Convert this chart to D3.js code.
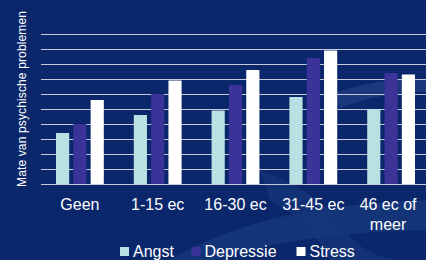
<!DOCTYPE html>
<html>
<head>
<meta charset="utf-8">
<script src="https://cdn.jsdelivr.net/npm/d3@7"></script>
<style>
  html, body { margin: 0; padding: 0; background: #0a276b; }
  svg { display: block; font-family: "Liberation Sans", Arial, sans-serif; }
</style>
</head>
<body>
<svg id="chart"></svg>
<script>
const width = 426;
const height = 260;

// data (no y tick labels, 10 grid steps)
const categories = ['Geen', '1-15 ec', '16-30 ec', '31-45 ec', '46 ec of meer'];
const series = ['Angst', 'Depressie', 'Stress'];
const angst = [3.4, 4.6, 4.9, 5.8, 5.0];
const depressie = [4.0, 6.0, 6.6, 8.4, 7.4];
const stress = [5.6, 6.9, 7.6, 8.9, 7.3];
const colors = ['#b9e1e4', '#3b3398', '#ffffff'];

const values = [angst, depressie, stress];

const svg = d3.select('#chart')
    .attr('width', width)
    .attr('height', height);

// background + faint watermark swoosh
svg.append('rect').attr('width', width).attr('height', height).attr('fill', '#0a276b');
svg.append('path')
    .attr('d', 'M170,260 C230,225 300,205 426,200 L426,230 C330,232 260,245 215,260 Z')
    .attr('fill', '#1b3d80').attr('opacity', 0.6);
svg.append('path')
    .attr('d', 'M330,95 C360,82 400,78 426,80 L426,92 C395,92 365,98 340,108 Z')
    .attr('fill', '#2a4a8c').attr('opacity', 0.5);
svg.append('path')
    .attr('d', 'M260,170 C300,185 330,205 350,235 C360,250 380,258 400,260 L330,260 C320,240 300,215 270,200 Z')
    .attr('fill', '#16367a').attr('opacity', 0.7);

const x0 = d3.scaleBand()
    .domain(categories)
    .range([41, 430])
    .paddingInner(0)
    .paddingOuter(0);

const x1 = d3.scaleBand()
    .domain(series)
    .range([15, x0.bandwidth() - 15])
    .paddingInner(0.24)
    .paddingOuter(0);

const y = d3.scaleLinear()
    .domain([0, 10])
    .range([184, 34]);

// grid lines
svg.append('g')
    .selectAll('line')
    .data(y.ticks(10))
    .join('line')
    .attr('x1', 41)
    .attr('x2', width)
    .attr('y1', d => y(d) + 0.5)
    .attr('y2', d => y(d) + 0.5)
    .attr('stroke', '#c3c9d8')
    .attr('stroke-width', 1.2);

// bars
const groups = svg.append('g')
    .selectAll('g')
    .data(categories)
    .join('g')
    .attr('transform', d => `translate(${x0(d)},0)`);

groups.selectAll('rect')
    .data((d, i) => series.map((s, j) => ({ s, v: values[j][i], c: colors[j] })))
    .join('rect')
    .attr('x', d => x1(d.s))
    .attr('y', d => y(d.v))
    .attr('width', x1.bandwidth())
    .attr('height', d => y(0) - y(d.v))
    .attr('fill', d => d.c);

// category labels
const labels = svg.append('g')
    .selectAll('text')
    .data(categories)
    .join('text')
    .attr('x', d => x0(d) + x0.bandwidth() / 2)
    .attr('y', 210)
    .attr('text-anchor', 'middle')
    .attr('fill', '#ffffff')
    .attr('font-size', 16);

labels.each(function(d) {
    const t = d3.select(this);
    if (d === '46 ec of meer') {
        const cx = x0(d) + x0.bandwidth() / 2 - 3;
        t.append('tspan').attr('x', cx).text('46 ec of');
        t.append('tspan').attr('x', cx).attr('dy', 20).text('meer');
    } else {
        t.text(d);
    }
});

// y axis title
svg.append('text')
    .attr('transform', 'translate(26,99) rotate(-90)')
    .attr('text-anchor', 'middle')
    .attr('fill', '#ffffff')
    .attr('font-size', 12)
    .attr('textLength', 176)
    .text('Mate van psychische problemen');

// legend
const legendX = [120, 191.5, 296.5];
const legend = svg.append('g')
    .selectAll('g')
    .data(series)
    .join('g')
    .attr('transform', (d, i) => `translate(${legendX[i]},247)`);

legend.append('rect')
    .attr('width', 9)
    .attr('height', 9)
    .attr('fill', (d, i) => colors[i]);

legend.append('text')
    .attr('x', 13)
    .attr('y', 9.5)
    .attr('fill', '#ffffff')
    .attr('font-size', 16)
    .text(d => d);
</script>
</body>
</html>
